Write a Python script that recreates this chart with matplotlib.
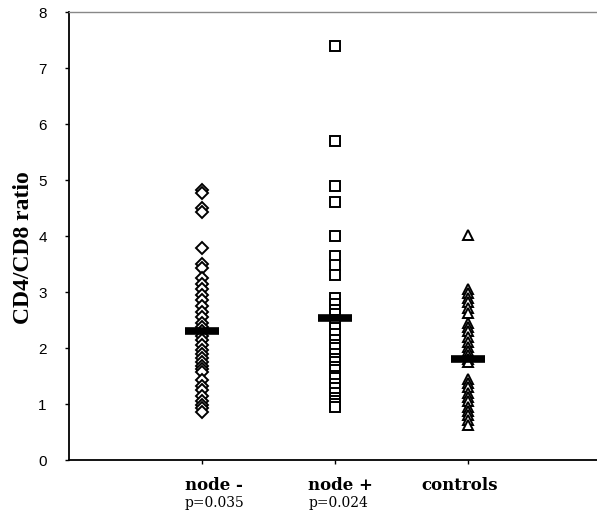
import numpy as np
import matplotlib
matplotlib.use("Agg")
import matplotlib.pyplot as plt

# values
groups = ["node -", "node +", "controls"]
p_values = ["p=0.035", "p=0.024", ""]
node_neg = [4.83, 4.77, 4.5, 4.42, 3.78, 3.5, 3.43, 3.25, 3.15, 3.05, 2.95,
            2.85, 2.75, 2.65, 2.55, 2.45, 2.38, 2.3, 2.22, 2.15, 2.05, 1.97,
            1.9, 1.82, 1.75, 1.68, 1.62, 1.57, 1.42, 1.33, 1.25, 1.15, 1.05,
            0.98, 0.92, 0.85]
node_pos = [7.4, 5.7, 4.9, 4.6, 4.0, 3.65, 3.48, 3.3, 2.9, 2.78, 2.68, 2.6,
            2.5, 2.42, 2.35, 2.25, 2.15, 2.05, 2.0, 1.9, 1.8, 1.75, 1.66, 1.6,
            1.5, 1.46, 1.36, 1.29, 1.2, 1.11, 1.05, 1.0, 0.95]
controls = [4.02, 3.05, 2.98, 2.9, 2.82, 2.72, 2.63, 2.45, 2.38, 2.3, 2.2,
            2.1, 2.02, 1.95, 1.88, 1.8, 1.75, 1.45, 1.38, 1.3, 1.2, 1.12, 1.05,
            0.95, 0.88, 0.8, 0.72, 0.62]
mean_lines = [2.3, 2.53, 1.8]
markers = ["D", "s", "^"]
marker_sizes = [6, 7, 6.5]

fig = plt.figure(figsize=(5.97, 5.21), dpi=100)
ax = fig.add_axes([69 / 597, 61 / 521, 1 - 69 / 597, 448 / 521])

for i, (vals, m, ms) in enumerate(zip([node_neg, node_pos, controls], markers, marker_sizes)):
    x = np.full(len(vals), i + 1)
    ax.plot(x, vals, linestyle="none", marker=m, markersize=ms,
            markerfacecolor="white", markeredgecolor="black", markeredgewidth=1.4)
    ax.hlines(mean_lines[i], i + 1 - 0.13, i + 1 + 0.13, color="black", linewidth=5.5, zorder=5)

ax.set_xlim(0, 3.97)
ax.set_ylim(0, 8)
ax.set_yticks(range(0, 9))
ax.set_xticks([1, 2, 3])
ax.set_xticklabels([])
ax.tick_params(axis="y", direction="out", length=3, width=1, labelsize=11, pad=13)
ax.tick_params(axis="x", direction="out", length=3, width=1)
for lab in ax.get_yticklabels():
    lab.set_fontfamily("Liberation Sans")

ax.spines["right"].set_visible(False)
ax.spines["top"].set_color("#888888")
ax.spines["top"].set_linewidth(1.0)
ax.spines["left"].set_linewidth(1.3)
ax.spines["bottom"].set_linewidth(1.3)

label_x = [0.87, 1.80, 2.65]
for i, g in enumerate(groups):
    ax.text(label_x[i], -0.3, g, ha="left", va="top", fontsize=12,
            fontweight="bold", family="DejaVu Serif")
    if p_values[i]:
        ax.text(label_x[i], -0.64, p_values[i], ha="left", va="top", fontsize=10,
                family="DejaVu Serif")

ax.set_ylabel("CD4/CD8 ratio", fontsize=17, fontweight="bold",
              family="Liberation Serif")
ax.yaxis.set_label_coords(-0.066, 0.473)

fig.savefig("out.png", dpi=100)
